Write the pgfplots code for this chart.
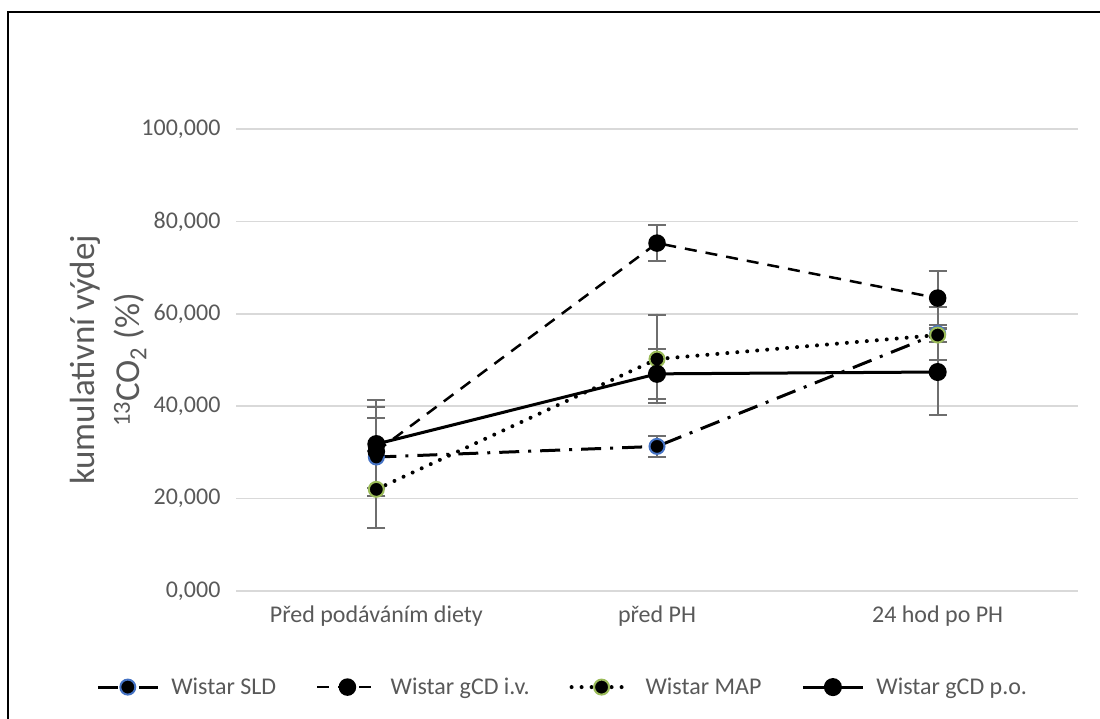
\documentclass[border=0pt]{standalone}
\usepackage{pgfplots}
\pgfplotsset{compat=1.18}
\usepackage{fontspec}
\setmainfont{Carlito}
\definecolor{tickgray}{HTML}{595959}
\definecolor{gridgray}{HTML}{D9D9D9}
\definecolor{errgray}{HTML}{6E6E6E}
\definecolor{sldblue}{HTML}{4472C4}
\definecolor{mapgreen}{HTML}{9BBB59}
\begin{document}
\begin{tikzpicture}[x=1pt,y=1pt]
\useasboundingbox (0,0) rectangle (1100,718);
\draw[line width=2pt, black] (7.5,-2) -- (7.5,705.5) -- (1102,705.5);
\begin{axis}[
  at={(236pt,127pt)}, anchor=south west,
  scale only axis, width=842pt, height=462pt,
  xmin=-0.5, xmax=2.5, ymin=0, ymax=100,
  ytick={0,20,...,100},
  xtick={0,1,2},
  xticklabels={Před podáváním diety, před PH, 24 hod po PH},
  axis line style={draw=none},
  major tick length=0pt,
  ymajorgrids,
  grid style={color=gridgray, line width=1.5pt},
  /pgf/number format/.cd, fixed, fixed zerofill, precision=3, use comma, 1000 sep={}, assume math mode=true,
  /pgfplots/.cd,
  tick label style={font=\fontsize{24}{28}\selectfont, text=tickgray},
  yticklabel style={xshift=-12pt},
  xticklabel style={yshift=-11pt},
  ylabel={kumulativní výdej\\\textsuperscript{13}CO\textsubscript{2} (\%)},
  ylabel style={align=center, font=\fontsize{35}{45}\selectfont, text=tickgray,
    at={(axis description cs:-0.152,0.5)}, anchor=center},
  clip=false,
  legend columns=4,
  legend style={at={(axis description cs:0.388,-0.208)}, anchor=center, draw=none,
    font=\fontsize{24}{28}\selectfont, text=tickgray,
    /tikz/every odd column/.append style={column sep=10pt},
    /tikz/every even column/.append style={column sep=38pt}},
  legend image code/.code={\draw[mark repeat=2,mark phase=2,#1] plot coordinates {(0pt,0pt) (30pt,0pt) (60pt,0pt)};},
  error bars/y dir=both, error bars/y explicit,
  error bars/error bar style={color=errgray, line width=2pt, solid},
  error bars/error mark options={rotate=90, mark size=9pt, color=errgray, line width=2pt},
]
\addplot[black, line width=3pt, dash pattern=on 20pt off 9pt on 3pt off 9pt,
  mark=*, mark size=7.5pt, mark options={solid, fill=black, draw=sldblue, line width=2pt}]
  coordinates {(0,29.0) +- (0,8.4) (1,31.3) +- (0,2.2) (2,55.7) +- (0,5.8)};
\addlegendentry{Wistar SLD}
\addplot[black, line width=2.5pt, dash pattern=on 12pt off 9pt,
  mark=*, mark size=7.5pt, mark options={solid, fill=black, draw=black}]
  coordinates {(0,30.2) +- (0,9.6) (1,75.3) +- (0,3.9) (2,63.4) +- (0,5.9)};
\addlegendentry{Wistar gCD i.v.}
\addplot[black, line width=4pt, line cap=round, dash pattern=on 0pt off 10pt,
  mark=*, mark size=7.5pt, mark options={solid, fill=black, draw=mapgreen, line width=2pt}]
  coordinates {(0,22.0) +- (0,8.4) (1,50.2) +- (0,9.6) (2,55.4) +- (0,1.5)};
\addlegendentry{Wistar MAP}
\addplot[black, line width=3pt, solid,
  mark=*, mark size=7.5pt, mark options={solid, fill=black, draw=black}]
  coordinates {(0,31.8) +- (0,9.5) (1,47.0) +- (0,5.4) (2,47.4) +- (0,9.3)};
\addlegendentry{Wistar gCD p.o.}
\end{axis}
\end{tikzpicture}
\end{document}
